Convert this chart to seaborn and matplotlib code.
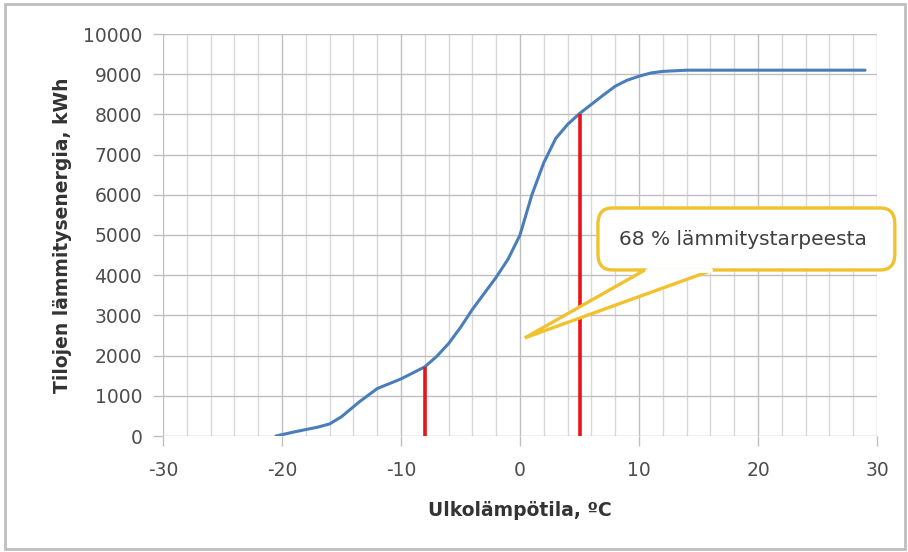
import numpy as np
import pandas as pd
import matplotlib
matplotlib.use("Agg")
import matplotlib.pyplot as plt
import seaborn as sns
from matplotlib.patches import FancyBboxPatch, Polygon, Rectangle

# ---- data ----
temps = [-20.5, -19, -17, -16, -15, -13.5, -12, -10, -8, -7, -6, -5, -4, -3, -2, -1,
         0, 1, 2, 3, 4, 5, 6, 7, 8, 9, 10, 11, 12, 14, 16, 20, 25, 29]
energy = [0, 100, 220, 300, 480, 850, 1180, 1420, 1720, 1980, 2300, 2700, 3150, 3550,
          3950, 4400, 5000, 6000, 6800, 7400, 7750, 8020, 8250, 8480, 8700, 8850, 8950,
          9030, 9070, 9100, 9100, 9100, 9100, 9100]
marker_x = [-8, 5]
marker_top = [1720, 8020]
x_ticks = [-30, -20, -10, 0, 10, 20, 30]
y_ticks = [0, 1000, 2000, 3000, 4000, 5000, 6000, 7000, 8000, 9000, 10000]
callout_text = "68 % lämmitystarpeesta"
xlabel = "Ulkolämpötila, ºC"
ylabel = "Tilojen lämmitysenergia, kWh"

df = pd.DataFrame({"t": temps, "e": energy})

sns.set_theme(style="white")
plt.rcParams['font.family'] = ['DejaVu Sans']

fig = plt.figure(figsize=(9.08, 5.52), dpi=100)
ax = fig.add_axes([163/908, 1-436/552, (877-163)/908, (436-34)/552])

# grid
for xv in np.arange(-30, 31, 2):
    c = "#BFBFBF" if xv % 10 == 0 else "#D9D9D9"
    ax.axvline(xv, color=c, lw=1.0, zorder=0)
for yv in y_ticks:
    ax.axhline(yv, color="#BFBFBF", lw=1.0, zorder=0)

sns.lineplot(data=df, x="t", y="e", ax=ax, color="#4A7EBB", lw=2.2, zorder=3)

for mx, mt in zip(marker_x, marker_top):
    ax.plot([mx, mx], [0, mt], color="#E8141B", lw=2.6, zorder=4, solid_capstyle="butt")

ax.set_xlim(-30, 30)
ax.set_ylim(0, 10000)
ax.set_xticks(x_ticks)
ax.set_yticks(y_ticks)
ax.set_xticklabels([str(v) for v in x_ticks])
ax.set_yticklabels([str(v) for v in y_ticks])
for s in ax.spines.values():
    s.set_visible(False)
ax.tick_params(axis="both", bottom=True, left=True, labelcolor="#4D4D4D", labelsize=13.5,
               length=7, width=1, direction="out", color="#BFBFBF")
ax.tick_params(axis="x", pad=11)
ax.tick_params(axis="y", pad=8)
ax.set_xlabel(xlabel, fontsize=13.5, fontweight="bold", color="#333333", labelpad=15)
ax.set_ylabel(ylabel, fontsize=13.5, fontweight="bold", color="#333333", labelpad=8)

# callout
yel = "#F2C12E"
box = FancyBboxPatch((6.55, 4130), 31.5 - 6.55, 5672 - 4130,
                     boxstyle="round,pad=0,rounding_size=1.2",
                     mutation_aspect=1000/2.96,
                     fc="white", ec=yel, lw=2.4, zorder=5, clip_on=False)
ax.add_patch(box)
wedge = Polygon([[10.5, 4130], [0.4, 2440], [16.2, 4130]], closed=False,
                fc="white", ec=yel, lw=2.4, zorder=6, clip_on=False, joinstyle="miter")
ax.add_patch(wedge)
ax.plot([10.75, 15.95], [4130, 4130], color="white", lw=3.5, zorder=7, clip_on=False)
ax.text((6.55 + 31.5) / 2 - 0.3, 4880, callout_text, ha="center", va="center",
        fontsize=14.5, color="#404040", zorder=8, clip_on=False)

# outer border
fig.patches.append(Rectangle((5/908, 3/552), 900/908, 545/552, transform=fig.transFigure,
                             fill=False, ec="#BFBFBF", lw=2))

fig.savefig("out.png", dpi=100)
